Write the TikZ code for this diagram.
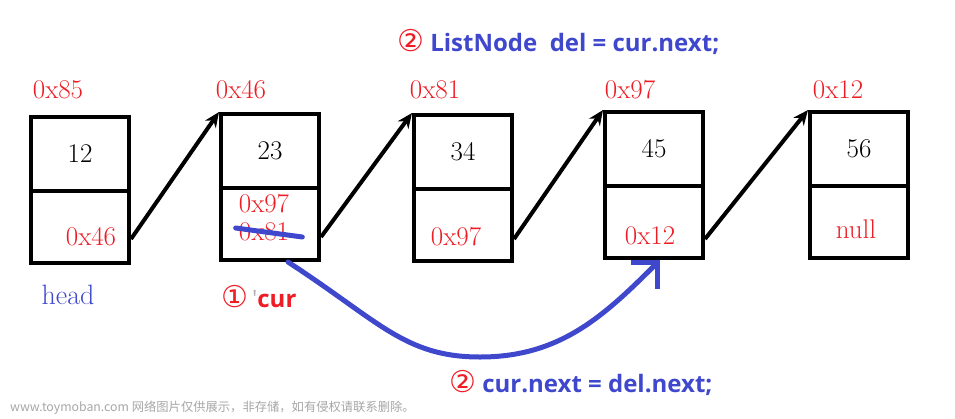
\documentclass[tikz,border=0pt]{standalone}
\usepackage{fontspec}
\newfontfamily\codefont{Open Sans}
\newfontfamily\symfont{DejaVu Sans}
\newfontfamily\cjk{Noto Sans CJK SC}
\usetikzlibrary{arrows.meta,positioning}
\definecolor{addrred}{RGB}{238,28,36}
\definecolor{penblue}{RGB}{63,72,204}
\newcommand{\circnum}[1]{{\symfont\mdseries\fontsize{30}{30}\selectfont\color{addrred}#1}}

\begin{document}
\begin{tikzpicture}[x=1pt, y=-1pt,
            cell/.style={draw, rectangle, line width=4pt, minimum width=98pt, anchor=north west, inner sep=0pt, font=\fontsize{27}{27}\selectfont},
            topcell/.style={cell, minimum height=74pt},
            botcell/.style={cell, minimum height=72pt},
            addr/.style={text=addrred, inner sep=0pt, font=\fontsize{27}{27}\selectfont},
            ptr/.style={-{Stealth[length=15pt,width=13pt]}, line width=4pt},
            pen/.style={draw=penblue, line width=5pt, line cap=round},
            code/.style={text=penblue, inner sep=0pt, anchor=west, font=\codefont\bfseries\fontsize{24}{24}\selectfont}]

            \useasboundingbox (0,0) rectangle (955,418);

            % 链表结点
            \node[topcell] (v1) at (29,115) {12};
            \node[botcell] (n1) at (29,189) {};
            \node[topcell] (v2) at (219,112) {23};
            \node[botcell] (n2) at (219,186) {};
            \node[topcell] (v3) at (412,113) {34};
            \node[botcell] (n3) at (412,187) {};
            \node[topcell] (v4) at (603,110) {45};
            \node[botcell] (n4) at (603,184) {};
            \node[topcell] (v5) at (808,110) {56};
            \node[botcell] (n5) at (808,184) {};

            % 地址
            \node[addr] (a1) at (58,90) {0x85};
            \node[addr] (a2) at (241,90) {0x46};
            \node[addr] (a3) at (435,90) {0x81};
            \node[addr] (a4) at (630,90) {0x97};
            \node[addr] (a5) at (838,90) {0x12};

            % next 域
            \node[addr] (p1) at (91,237) {0x46};
            \node[addr] (p2) at (264,204) {0x97};
            \node[addr] (old) at (264,232) {0x81};
            \node[addr] (p3) at (456,237) {0x97};
            \node[addr] (p4) at (650,236) {0x12};
            \node[addr] (p5) at (856,229) {null};

            % 指针
            \draw[ptr] ([yshift=-12pt]n1.east) -- (v2.north west);
            \draw[ptr] ([yshift=-13pt]n2.east) -- (v3.north west);
            \draw[ptr] ([yshift=-14pt]n3.east) -- (v4.north west);
            \draw[ptr] ([yshift=-17pt]n4.east) -- (v5.north west);

            % 删除
            \draw[pen] ([shift={(-3pt,4pt)}]old.west) -- ([shift={(13pt,-5pt)}]old.east);
            \coordinate (low) at (480,357);
            \draw[pen, -{Straight Barb[length=19pt,width=38pt]}] ([xshift=18pt]n2.south) to[out=-33, in=180, out looseness=1.3, in looseness=0.9] (low) to[out=0, in=225] ([xshift=6pt]n4.south);

            % 说明
            \node[text=penblue, inner sep=0pt, font=\fontsize{28}{28}\selectfont] (head) at (68,295) {head};
            \node[text=addrred, inner sep=0pt, anchor=west, font=\codefont\bfseries\fontsize{24}{24}\selectfont] (cur) at (221,297) {\circnum{①}\,{\color{gray!60}\mdseries'}cur};
            \node[code] (del) at (397,42) {\circnum{②} ListNode~~del = cur.next;};
            \node[code] (skip) at (449,383) {\circnum{②} cur.next = del.next;};
            \node[text=gray!70, inner sep=0pt, anchor=west, font=\cjk\fontsize{12.3}{12.3}\selectfont] (mark) at (10,408) {www.toymoban.com 网络图片仅供展示，非存储，如有侵权请联系删除。};
        \end{tikzpicture}
\end{document}
